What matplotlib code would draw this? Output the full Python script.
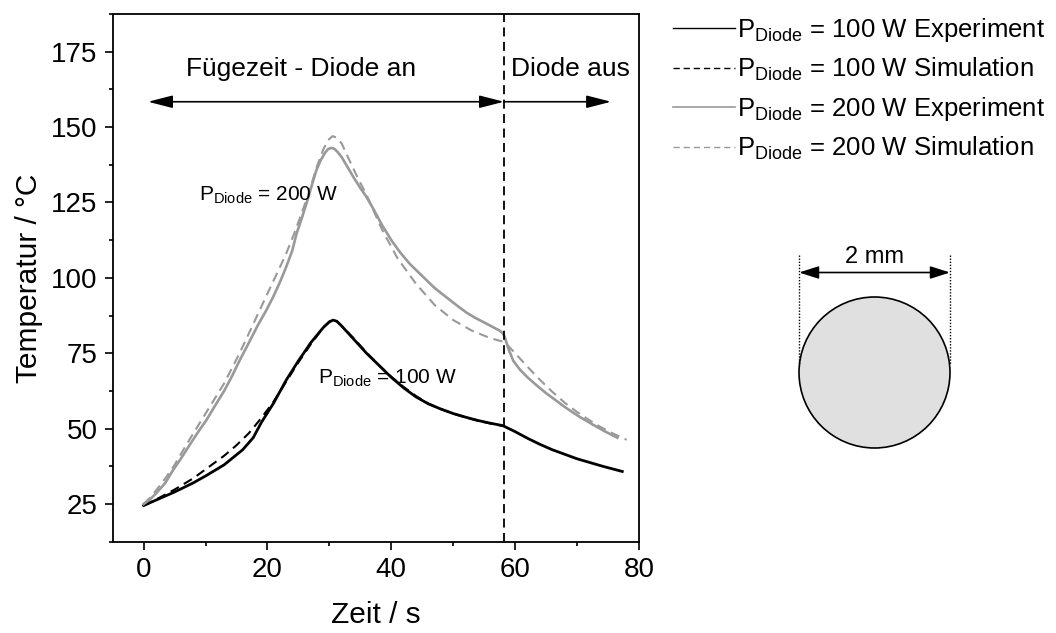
import matplotlib
matplotlib.use("Agg")
import matplotlib.pyplot as plt
from matplotlib.patches import Circle
from matplotlib.ticker import MultipleLocator

plt.rcParams['font.family'] = ['Liberation Sans', 'DejaVu Sans']
plt.rcParams['mathtext.default'] = 'regular'

# Measured temperature curves (time in s, temperature in degC)
t_100_exp = [0, 2, 5, 8, 10, 13, 16, 17.7, 19, 21, 23, 25, 27, 29, 30, 30.6, 31.2,
             32, 34, 36, 38, 40, 42, 44, 46, 48, 50, 52, 54, 56, 58,
             60, 62, 64, 66, 68, 70, 72, 74, 76, 77.3]
T_100_exp = [24.5, 26.3, 29.0, 32.0, 34.3, 38.0, 43.0, 47.0, 52.0, 58.5, 66.0, 72.5, 78.5, 83.5, 85.4, 86.0, 85.6,
             84.0, 79.5, 75.0, 71.0, 67.0, 63.5, 60.5, 58.2, 56.5, 55.0, 53.8, 52.7, 51.8, 51.0,
             49.0, 46.8, 44.8, 43.0, 41.5, 40.0, 38.8, 37.6, 36.5, 35.8]

t_100_sim = [0, 2, 5, 8, 10, 13, 15, 17, 19, 21, 23, 25, 27, 29, 30, 30.6, 31.2,
             32, 34, 36, 38, 40, 42, 44, 46, 48, 50, 52, 54, 56, 58]
T_100_sim = [24.5, 26.5, 29.8, 33.5, 36.5, 41.0, 44.5, 48.5, 53.5, 59.0, 65.5, 72.0, 78.0, 83.5, 85.5, 86.0, 85.6,
             84.0, 79.8, 75.2, 71.0, 67.2, 63.8, 60.8, 58.3, 56.5, 55.0, 53.7, 52.6, 51.7, 50.9]

t_200_exp = [0, 1, 2, 3.5, 4.7, 6, 7.5, 9, 10.1, 11.5, 13, 14.3, 15.5, 17, 18.5, 19.8, 20.9,
             22, 23, 24, 24.7, 25.5, 26.5, 27.2, 27.9, 28.6, 29.3, 29.8, 30.3, 30.8, 31.3,
             32, 33, 34, 35, 36, 37.2, 38.5, 40, 41.4, 43, 44.5, 45.7, 46.8, 48, 49.5, 51, 52.2,
             53.5, 55, 56.3, 57.5, 58.0, 58.3, 58.6, 59.1, 59.7, 60.8, 62, 63.5, 65.1,
             66.5, 68, 69.3, 70.5, 72, 73, 74.4, 75.8, 76.5]
T_200_exp = [25.0, 26.5, 28.5, 32.0, 36.1, 40.0, 44.8, 49.5, 52.7, 57.5, 62.5, 67.5, 72.6, 78.5, 84.5, 89.2, 93.6,
             98.5, 103.5, 109.0, 114.7, 119.5, 126.0, 131.0, 135.7, 139.0, 141.5, 142.7, 143.1, 142.8, 141.8,
             140.0, 136.5, 133.0, 129.8, 126.8, 122.5, 117.5, 112.5, 108.5, 104.6, 101.6, 99.2, 97.0, 95.0, 92.6, 90.2, 88.4,
             86.8, 85.2, 83.8, 82.5, 81.6, 80.5, 78.5, 75.5, 72.5, 69.5, 67.0, 64.3, 61.6,
             59.5, 57.2, 55.4, 53.8, 52.0, 50.8, 49.2, 47.7, 47.0]

t_200_sim = [0, 1, 2, 3.5, 5, 7, 10, 13, 15.5, 18, 20.5, 22, 23, 24, 25, 26.5, 28, 29, 29.8, 30.5,
             31.2, 32, 33, 34.5, 36, 38.5, 41, 44, 47, 50, 53, 56, 58.3,
             60, 62, 64, 66, 68, 70, 72, 74, 76, 78]
T_200_sim = [25.0, 27.0, 29.5, 33.5, 38.0, 45.0, 55.0, 65.0, 75.0, 86.0, 97.0, 103.5, 108.0, 113.0, 118.5, 127.0, 137.0, 142.5, 145.7, 147.0,
             146.5, 144.5, 140.0, 133.5, 127.5, 116.0, 106.5, 98.0, 91.0, 86.0, 82.5, 80.0, 78.7,
             75.0, 70.5, 66.2, 62.2, 58.6, 55.5, 52.8, 50.3, 48.2, 46.3]

t_switch = 58.2
t_arrow_start = 0.7
t_arrow_end = 75.5
T_arrow = 158.4

xticks = [0, 20, 40, 60, 80]
yticks = [25, 50, 75, 100, 125, 150, 175]

legend_labels = [r'$P_{Diode}$ = 100 W Experiment',
                 r'$P_{Diode}$ = 100 W Simulation',
                 r'$P_{Diode}$ = 200 W Experiment',
                 r'$P_{Diode}$ = 200 W Simulation']

GRAY = '#999999'
DASH = (0, (4.5, 2.8))

fig = plt.figure(figsize=(10.56, 6.33), dpi=100)
ax = fig.add_axes([0.1067, 0.1442, 0.4984, 0.8337])

l1, = ax.plot(t_100_exp, T_100_exp, color='black', lw=2.0, solid_joinstyle='round')
l2, = ax.plot(t_100_sim, T_100_sim, color='black', lw=1.5, ls=DASH)
l3, = ax.plot(t_200_exp, T_200_exp, color=GRAY, lw=1.9, solid_joinstyle='round')
l4, = ax.plot(t_200_sim, T_200_sim, color=GRAY, lw=1.5, ls=DASH)

ax.axvline(t_switch, color='black', lw=1.3, ls=(0, (5, 3)))

ax.set_xlim(-5, 80)
ax.set_ylim(12.5, 187.5)
ax.set_xticks(xticks)
ax.set_yticks(yticks)
ax.xaxis.set_minor_locator(MultipleLocator(10))
ax.yaxis.set_minor_locator(MultipleLocator(12.5))
ax.tick_params(which='major', direction='out', length=6, width=1.2, labelsize=20, pad=5)
ax.tick_params(which='minor', direction='out', length=3, width=1.2)
for sp in ax.spines.values():
    sp.set_linewidth(1.3)

ax.set_xlabel('Zeit / s', fontsize=21.5, labelpad=13)
ax.set_ylabel('Temperatur / °C', fontsize=21.5, labelpad=6)

# Phase arrows
arrow_kw = dict(color='black', lw=1.2, shrinkA=0, shrinkB=0, mutation_scale=12)
ax.annotate('', xy=(t_switch, T_arrow), xytext=(t_arrow_start, T_arrow),
            arrowprops=dict(arrowstyle='<|-|>,head_length=1.25,head_width=0.32', **arrow_kw))
ax.annotate('', xy=(t_arrow_end, T_arrow), xytext=(t_switch, T_arrow),
            arrowprops=dict(arrowstyle='-|>,head_length=1.25,head_width=0.32', **arrow_kw))
ax.text(25.5, 169.3, 'Fügezeit - Diode an', fontsize=19, ha='center', va='center')
ax.text(68.9, 169.3, 'Diode aus', fontsize=19, ha='center', va='center')

ax.text(9.0, 127.4, r'$P_{Diode}$ = 200 W', fontsize=15, ha='left', va='center')
ax.text(28.1, 66.6, r'$P_{Diode}$ = 100 W', fontsize=15, ha='left', va='center')

fig.legend([l1, l2, l3, l4], legend_labels, loc='upper left',
           bbox_to_anchor=(673 / 1056, 1 - 16 / 633), frameon=False,
           fontsize=18.5, handlelength=2.4, handletextpad=0.1,
           labelspacing=0.46, borderaxespad=0, borderpad=0)
for h, lw in zip(fig.legends[0].get_lines(), [1.0, 1.0, 1.2, 1.0]):
    h.set_linewidth(lw)

# Cross-section sketch of the 2 mm specimen, drawn in figure pixels
ov = fig.add_axes([0, 0, 1, 1], zorder=-1)
ov.set_xlim(0, 1056)
ov.set_ylim(633, 0)
ov.axis('off')
cx, cy, r = 874.5, 372.5, 75.5
ov.add_patch(Circle((cx, cy), r, facecolor='#e0e0e0', edgecolor='black', lw=1.2))
for xe in (cx - r, cx + r):
    ov.plot([xe, xe], [255, cy - 8], color='black', lw=1.0, ls=(0, (1, 1.2)))
ov.annotate('', xy=(cx + r, 272.5), xytext=(cx - r, 272.5),
            arrowprops=dict(arrowstyle='<|-|>,head_length=1.0,head_width=0.32',
                            color='black', lw=1.2, shrinkA=0, shrinkB=0, mutation_scale=12))
ov.text(cx, 257, '2 mm', fontsize=17, ha='center', va='center')

fig.savefig('out.png', dpi=100)
